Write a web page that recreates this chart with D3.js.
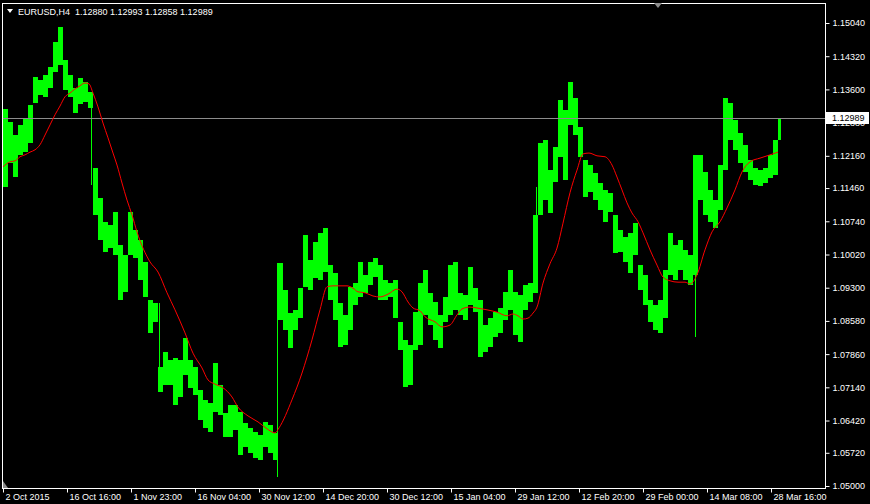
<!DOCTYPE html>
<html>
<head>
<meta charset="utf-8">
<script src="https://cdn.jsdelivr.net/npm/d3@7"></script>
<style>
  html, body { margin: 0; padding: 0; background: #000; }
  svg { display: block; }
  text { font-family: "Liberation Sans", Arial, sans-serif; font-size: 9px; fill: #fff; }
</style>
</head>
<body>
<svg id="chart" width="870" height="504"></svg>
<script>
'use strict';

/* EURUSD H4, bars grouped by 5 (high / low of each group) */
var groupSize = 5;
var barCount = 778;
var barHigh = [
  1.1318, 1.1290, 1.1261, 1.1283, 1.1298, 1.1326, 1.1387, 1.1381, 1.1391, 1.1409,
  1.1463, 1.1496, 1.1424, 1.1391, 1.1363, 1.1385, 1.1376, 1.1355, 1.1190, 1.1125,
  1.1073, 1.1066, 1.1094, 1.1023, 1.1001, 1.1094, 1.1055, 1.1034, 1.0986, 1.0903,
  1.0897, 1.0758, 1.0791, 1.0773, 1.0778, 1.0773, 1.0821, 1.0773, 1.0758, 1.0708,
  1.0687, 1.0680, 1.0767, 1.0719, 1.0658, 1.0676, 1.0676, 1.0661, 1.0637, 1.0626,
  1.0617, 1.0611, 1.0639, 1.0632, 1.0615, 1.0984, 1.0925, 1.0875, 1.0882, 1.0929,
  1.1044, 1.0990, 1.1029, 1.1049, 1.1060, 1.0979, 1.0962, 1.0897, 1.0871, 1.0932,
  1.0940, 1.0986, 1.0958, 1.0986, 1.0995, 1.0979, 1.0947, 1.0940, 1.0947, 1.0856,
  1.0817, 1.0806, 1.0877, 1.0940, 1.0969, 1.0919, 1.0899, 1.0871, 1.0910, 1.0979,
  1.0986, 1.0919, 1.0914, 1.0975, 1.0929, 1.0903, 1.0849, 1.0864, 1.0877, 1.0886,
  1.0921, 1.0969, 1.0921, 1.0914, 1.0936, 1.0940, 1.1088, 1.1244, 1.1250, 1.1185,
  1.1235, 1.1337, 1.1316, 1.1376, 1.1342, 1.1279, 1.1207, 1.1196, 1.1179, 1.1157,
  1.1142, 1.1136, 1.1088, 1.1055, 1.1040, 1.1049, 1.1070, 1.0979, 1.0958, 1.0903,
  1.0893, 1.0903, 1.0969, 1.1049, 1.1023, 1.1034, 1.1012, 1.1001, 1.1218, 1.1218,
  1.1181, 1.1142, 1.1120, 1.1196, 1.1342, 1.1331, 1.1294, 1.1266, 1.1240, 1.1207,
  1.1190, 1.1185, 1.1190, 1.1218, 1.1250, 1.1299
];
var barLow = [
  1.1149, 1.1201, 1.1170, 1.1218, 1.1224, 1.1244, 1.1331, 1.1348, 1.1344, 1.1363,
  1.1398, 1.1413, 1.1359, 1.1344, 1.1309, 1.1329, 1.1333, 1.1320, 1.1088, 1.1034,
  1.1008, 1.1016, 1.1001, 1.0903, 1.0921, 1.1001, 1.0995, 1.0947, 1.0910, 1.0832,
  1.0856, 1.0704, 1.0719, 1.0719, 1.0676, 1.0693, 1.0741, 1.0713, 1.0697, 1.0643,
  1.0626, 1.0617, 1.0661, 1.0654, 1.0606, 1.0606, 1.0621, 1.0567, 1.0585, 1.0572,
  1.0561, 1.0556, 1.0585, 1.0572, 1.0556, 1.0860, 1.0838, 1.0799, 1.0838, 1.0864,
  1.0932, 1.0925, 1.0951, 1.0947, 1.0964, 1.0903, 1.0860, 1.0802, 1.0806, 1.0838,
  1.0893, 1.0910, 1.0919, 1.0936, 1.0953, 1.0903, 1.0903, 1.0910, 1.0864, 1.0795,
  1.0715, 1.0719, 1.0795, 1.0806, 1.0871, 1.0849, 1.0817, 1.0799, 1.0856, 1.0871,
  1.0882, 1.0871, 1.0860, 1.0893, 1.0877, 1.0780, 1.0791, 1.0802, 1.0823, 1.0832,
  1.0860, 1.0882, 1.0828, 1.0812, 1.0882, 1.0899, 1.0919, 1.1088, 1.1120, 1.1092,
  1.1159, 1.1214, 1.1164, 1.1283, 1.1261, 1.1214, 1.1127, 1.1138, 1.1120, 1.1099,
  1.1073, 1.1094, 1.1005, 1.1008, 1.0986, 1.0962, 1.1001, 1.0925, 1.0893, 1.0856,
  1.0838, 1.0832, 1.0864, 1.0958, 1.0947, 1.0969, 1.0947, 1.0936, 1.0958, 1.1120,
  1.1088, 1.1073, 1.1060, 1.1099, 1.1185, 1.1250, 1.1229, 1.1201, 1.1181, 1.1164,
  1.1153, 1.1151, 1.1157, 1.1168, 1.1175, 1.1250
];

/* single long bars */
var spikeBar = [88, 156, 274, 533, 692];
var spikeHigh = [1.1337, 1.0897, 1.0984, 1.1149, 1.1001];
var spikeLow = [1.1153, 1.0704, 1.0520, 1.0919, 1.0823];

/* moving average (red) */
var maBar = [0, 7, 12, 17, 22, 27, 32, 37, 42, 47, 52, 57, 62, 67, 72, 77, 82, 86, 90, 95,
  100, 105, 110, 114, 119, 124, 129, 134, 147, 155, 164, 172, 182, 190, 199, 205, 212, 220, 229, 235,
  245, 255, 264, 272, 276, 289, 299, 309, 317, 324, 330, 344, 350, 355, 362, 370, 377, 385, 394, 399,
  405, 410, 417, 422, 432, 439, 447, 454, 459, 467, 474, 484, 494, 504, 510, 515, 520, 525, 530, 534,
  540, 547, 554, 560, 567, 574, 580, 586, 594, 602, 609, 614, 619, 624, 629, 635, 640, 647, 654, 660,
  667, 675, 682, 687, 694, 702, 709, 717, 724, 732, 739, 747, 757, 767, 775];
var maValue = [1.1192, 1.1203, 1.1205, 1.1214, 1.1218, 1.1224, 1.1229, 1.1240, 1.1261, 1.1283,
  1.1305, 1.1324, 1.1344, 1.1352, 1.1361, 1.1368, 1.1374, 1.1372, 1.1352, 1.1322,
  1.1287, 1.1255, 1.1222, 1.1196, 1.1157, 1.1120, 1.1088, 1.1051, 1.0986, 1.0964,
  1.0919, 1.0882, 1.0832, 1.0788, 1.0756, 1.0730, 1.0721, 1.0713, 1.0693, 1.0671,
  1.0652, 1.0639, 1.0624, 1.0615, 1.0626, 1.0687, 1.0745, 1.0817, 1.0882, 1.0932,
  1.0934, 1.0934, 1.0929, 1.0921, 1.0919, 1.0912, 1.0910, 1.0916, 1.0927, 1.0921,
  1.0899, 1.0886, 1.0880, 1.0867, 1.0856, 1.0845, 1.0849, 1.0871, 1.0884, 1.0888,
  1.0886, 1.0882, 1.0877, 1.0869, 1.0873, 1.0869, 1.0862, 1.0864, 1.0875, 1.0888,
  1.0940, 1.0982, 1.1016, 1.1070, 1.1136, 1.1185, 1.1220, 1.1222, 1.1216, 1.1214,
  1.1196, 1.1170, 1.1142, 1.1114, 1.1092, 1.1073, 1.1049, 1.1012, 1.0979, 1.0953,
  1.0945, 1.0942, 1.0942, 1.0938, 1.0958, 1.1012, 1.1051, 1.1073, 1.1103, 1.1142,
  1.1181, 1.1203, 1.1211, 1.1218, 1.1224];

var priceTicks = [1.0500, 1.0572, 1.0642, 1.0714, 1.0786, 1.0858, 1.0930, 1.1002,
  1.1074, 1.1146, 1.1216, 1.1288, 1.1360, 1.1432, 1.1504];
var timeBars = [0, 64, 128, 192, 256, 320, 384, 448, 512, 576, 640, 704, 768];
var timeLabels = ['2 Oct 2015', '16 Oct 16:00', '1 Nov 23:00', '16 Nov 04:00', '30 Nov 12:00',
  '14 Dec 20:00', '30 Dec 12:00', '15 Jan 04:00', '29 Jan 12:00', '12 Feb 20:00',
  '29 Feb 00:00', '14 Mar 08:00', '28 Mar 16:00'];
var lastBar = {open: 1.12880, high: 1.12993, low: 1.12858, close: 1.12989};

var svg = d3.select('#chart');
var x = d3.scaleLinear().domain([0, 822]).range([3, 825]);
var y = d3.scaleLinear().domain([1.05, 1.1504]).range([486, 23]);

svg.append('rect')
  .attr('width', 870).attr('height', 504).attr('fill', '#000');

// bars
var plot = svg.append('g').attr('shape-rendering', 'crispEdges');
plot.selectAll('.grp')
  .data(barHigh)
  .enter()
  .append('rect')
  .attr('class', 'grp')
  .attr('x', function(d, i) { return x(i * groupSize); })
  .attr('width', function(d, i) {
    return x(Math.min(barCount, (i + 1) * groupSize)) - x(i * groupSize);
  })
  .attr('y', function(d) { return y(d); })
  .attr('height', function(d, i) { return Math.max(1, y(barLow[i]) - y(d)); })
  .attr('fill', '#00ff00');

plot.selectAll('.spike')
  .data(spikeBar)
  .enter()
  .append('rect')
  .attr('class', 'spike')
  .attr('x', function(d) { return x(d); })
  .attr('width', 1)
  .attr('y', function(d, i) { return y(spikeHigh[i]); })
  .attr('height', function(d, i) { return y(spikeLow[i]) - y(spikeHigh[i]); })
  .attr('fill', '#00ff00');

// current price line
var py = Math.round(y(lastBar.close)) + 0.5;
svg.append('line')
  .attr('x1', 3).attr('x2', 825)
  .attr('y1', py).attr('y2', py)
  .attr('stroke', '#8c8c8c');

// moving average
var line = d3.line()
  .x(function(d) { return x(d); })
  .y(function(d, i) { return y(maValue[i]); })
  .curve(d3.curveMonotoneX);
svg.append('path')
  .datum(maBar)
  .attr('d', line)
  .attr('fill', 'none')
  .attr('stroke', '#ff0000')
  .attr('stroke-width', 1);

// frame
svg.append('rect')
  .attr('x', 2.5).attr('y', 3.5)
  .attr('width', 823).attr('height', 485)
  .attr('fill', 'none').attr('stroke', '#fff')
  .attr('shape-rendering', 'crispEdges');

// price axis
var yAxis = svg.append('g')
  .attr('transform', 'translate(825.5,0)')
  .call(d3.axisRight(y).tickValues(priceTicks).tickSize(4).tickPadding(3)
    .tickFormat(d3.format('.5f')));
yAxis.select('.domain').remove();
yAxis.selectAll('line').attr('stroke', '#fff');
yAxis.selectAll('text').attr('fill', '#fff').style('font-size', '9px')
  .style('font-family', '"Liberation Sans", Arial, sans-serif');

// time axis
var xAxis = svg.append('g')
  .attr('transform', 'translate(0,488.5)')
  .call(d3.axisBottom(x).tickValues(timeBars).tickSize(4)
    .tickFormat(function(d, i) { return timeLabels[i]; }));
xAxis.select('.domain').remove();
xAxis.selectAll('line').attr('stroke', '#fff');
xAxis.selectAll('text')
  .attr('text-anchor', 'start')
  .attr('x', 2).attr('y', 5).attr('dy', '0.71em')
  .attr('fill', '#fff').style('font-size', '9px')
  .style('font-family', '"Liberation Sans", Arial, sans-serif');

// price label
svg.append('rect')
  .attr('x', 826).attr('y', py - 6.5)
  .attr('width', 43).attr('height', 12)
  .attr('fill', '#fff');
svg.append('text')
  .attr('x', 832).attr('y', py).attr('dy', '0.32em')
  .style('fill', '#000')
  .text(d3.format('.5f')(lastBar.close));

// title
svg.append('path')
  .attr('d', 'M7,9L13,9L10,13Z')
  .attr('fill', '#fff');
svg.append('text')
  .attr('x', 18).attr('y', 15)
  .style('white-space', 'pre')
  .text('EURUSD,H4  ' + [lastBar.open, lastBar.high, lastBar.low, lastBar.close]
    .map(d3.format('.5f')).join(' '));

// small markers
svg.append('path')
  .attr('d', 'M654,3L662,3L658,8Z')
  .attr('fill', '#8c8c8c');
svg.append('path')
  .attr('d', 'M3,481L3,488L8,488Z')
  .attr('fill', '#8c8c8c');
</script>
</body>
</html>
